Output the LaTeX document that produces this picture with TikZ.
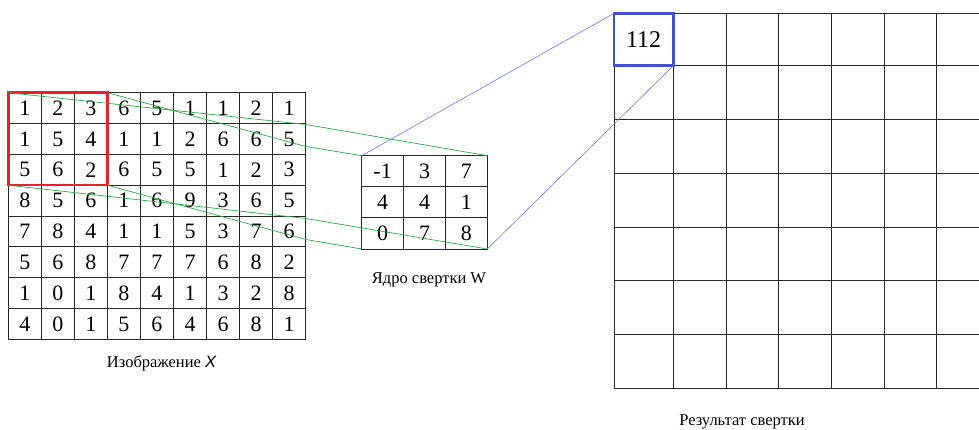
\documentclass[tikz,border=0pt]{standalone}
\usepackage{fontspec}
\setmainfont{Liberation Serif}
\newfontfamily\sansfam{Liberation Sans}
\usetikzlibrary{fit}
\definecolor{redc}{RGB}{232,32,42}
\definecolor{bluebox}{RGB}{66,80,210}
\definecolor{bluel}{RGB}{110,120,230}
\definecolor{greenl}{RGB}{40,175,70}
\definecolor{gridc}{RGB}{40,40,40}
\begin{document}
\begin{tikzpicture}[x=1pt,y=-1pt,
  xcell/.style={draw=gridc,line width=0.9pt,minimum width=33.04pt,minimum height=30.83pt,inner sep=0pt,outer sep=0pt,font=\fontsize{22}{24}\selectfont},
  kcell/.style={draw=gridc,line width=0.9pt,minimum width=41.87pt,minimum height=31.1pt,inner sep=0pt,outer sep=0pt,font=\fontsize{22}{24}\selectfont},
  rcell/.style={draw=gridc,line width=0.9pt,inner sep=0pt,outer sep=0pt},
  redbox/.style={draw=redc,line width=2.6pt,inner sep=0pt,outer sep=0pt},
  bluefr/.style={draw=bluebox,line width=2.6pt,inner sep=0pt,outer sep=0pt},
  greenline/.style={draw=greenl,line width=0.7pt},
  blueline/.style={draw=bluel,line width=0.6pt},
  caption/.style={font=\fontsize{16.5}{19}\selectfont,inner sep=0pt}
]
\useasboundingbox (0,0) rectangle (979,430);
\clip (0,0) rectangle (979,430);

% input image X
\foreach \rowv [count=\r] in {{1,2,3,6,5,1,1,2,1},{1,5,4,1,1,2,6,6,5},{5,6,2,6,5,5,1,2,3},{8,5,6,1,6,9,3,6,5},{7,8,4,1,1,5,3,7,6},{5,6,8,7,7,7,6,8,2},{1,0,1,8,4,1,3,2,8},{4,0,1,5,6,4,6,8,1}}{
  \foreach \v [count=\c] in \rowv {
    \node[xcell] (x-\r-\c) at ({8.3+33.04*(\c-0.5)},{92.7+30.83*(\r-0.5)}) {\v};
  }
}
\node[caption] (capx) at (161.5,363) {Изображение {\sansfam\itshape X}};

% kernel W
\foreach \rowv [count=\r] in {{-1,3,7},{4,4,1},{0,7,8}}{
  \foreach \v [count=\c] in \rowv {
    \node[kcell] (k-\r-\c) at ({361.7+41.87*(\c-0.5)},{155.7+31.1*(\r-0.5)}) {\v};
  }
}
\node[caption] (capk) at (429,280) {Ядро свертки W};

% result grid
\def\xs{{614,673.3,726.3,778.3,831.3,884.3,936,989}}
\def\ys{{13.3,65.7,119.5,173.3,227.1,280.9,334.7,388.5}}
\foreach \r in {1,...,7}{
  \foreach \c in {1,...,7}{
    \pgfmathsetmacro\xa{\xs[\c-1]}
    \pgfmathsetmacro\xb{\xs[\c]}
    \pgfmathsetmacro\ya{\ys[\r-1]}
    \pgfmathsetmacro\yb{\ys[\r]}
    \pgfmathsetmacro\w{\xb-\xa}
    \pgfmathsetmacro\h{\yb-\ya}
    \node[rcell,minimum width=\w pt,minimum height=\h pt] (r-\r-\c) at ({(\xa+\xb)/2},{(\ya+\yb)/2}) {};
  }
}
\node[caption] (capr) at (742,422) {Результат свертки};

% window and connectors
\node[redbox,fit=(x-1-1)(x-3-3)] (win) {};
\coordinate (ka) at (306,124.5);
\coordinate (kb) at (306,146.5);
\coordinate (kc) at (306,218.5);
\coordinate (kd) at (306,239.5);
\draw[greenline] (win.north west) -- (ka) -- (k-1-3.north east);
\draw[greenline] (win.north east) -- (kb) -- (k-1-1.north west);
\draw[greenline] (win.south west) -- (kc) -- (k-3-3.south east);
\draw[greenline] (win.south east) -- (kd) -- (k-3-1.south west);

\node[bluefr,fit=(r-1-1)] (out) {};
\node[font=\fontsize{24}{26}\selectfont,inner sep=0pt] (val) at (r-1-1.center) {112};
\draw[blueline] (k-1-1.north west) -- (out.north west);
\draw[blueline] (k-3-3.south east) -- (out.south east);
\end{tikzpicture}
\end{document}
